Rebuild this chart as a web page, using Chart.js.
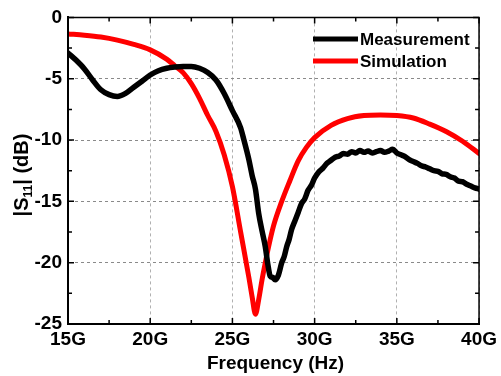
<!DOCTYPE html>
<html>
<head>
<meta charset="utf-8">
<script src="https://cdn.jsdelivr.net/npm/chart.js@4"></script>
<style>
  html, body { margin: 0; padding: 0; background: #fff; }
  #wrap { width: 501px; height: 376px; }
</style>
</head>
<body>
<div id="wrap"><canvas id="s11Chart" width="501" height="376"></canvas></div>
<script>
// measured S11 (GHz, dB)
const measFreq = [15, 15.5, 16, 16.5, 17, 17.5, 18, 18.5, 19, 19.5, 20, 20.5, 21, 21.5, 22, 22.5, 23, 23.5, 24, 24.5,
  25, 25.5, 25.7, 26, 26.2, 26.4, 26.6, 26.8, 27, 27.15, 27.3, 27.45, 27.6, 27.8, 28, 28.15, 28.3, 28.45, 28.6, 28.8,
  29, 29.2, 29.4, 29.6, 29.8, 30, 30.25, 30.5, 30.75, 31, 31.25, 31.5, 31.75, 32, 32.25, 32.5, 32.75, 33, 33.25, 33.5,
  33.75, 34, 34.25, 34.5, 34.75, 35, 35.25, 35.5, 35.75, 36, 36.25, 36.5, 36.75, 37, 37.25, 37.5, 37.75, 38, 38.25,
  38.5, 38.75, 39, 39.25, 39.5, 39.75, 40];
const measS11 = [-2.9, -3.5, -4.2, -5.1, -5.9, -6.3, -6.45, -6.2, -5.7, -5.2, -4.7, -4.35, -4.15, -4.05, -4.0, -4.0, -4.15, -4.5, -5.1, -6.2,
  -7.6, -9.0, -10.0, -11.6, -12.9, -14.0, -16.0, -17.4, -18.7, -20.1, -21.1, -21.2, -21.4, -21.0, -20.0, -19.5, -18.7, -18.1, -17.3, -16.6,
  -15.9, -15.2, -14.8, -14.1, -13.7, -13.1, -12.6, -12.3, -11.9, -11.65, -11.4, -11.3, -11.1, -11.15, -10.95, -11.05, -10.85, -11.0, -10.9, -11.05,
  -10.95, -10.85, -11.0, -10.9, -10.75, -11.05, -11.2, -11.35, -11.6, -11.75, -11.9, -12.1, -12.2, -12.35, -12.5, -12.55, -12.75, -12.8, -13.0,
  -13.1, -13.35, -13.4, -13.6, -13.75, -13.9, -14.0];

// simulated S11 (GHz, dB)
const simFreq = [15, 16, 17, 18, 19, 20, 21, 21.5, 22, 22.5, 23, 23.5, 24, 24.5, 25, 25.5, 26, 26.2, 26.4, 26.6,
  26.8, 27, 27.2, 27.5, 28, 28.5, 29, 29.5, 30, 31, 32, 33, 34, 35, 36, 37, 38, 39, 40];
const simS11 = [-1.35, -1.45, -1.6, -1.85, -2.2, -2.65, -3.4, -3.95, -4.5, -5.4, -6.6, -8.0, -9.3, -11.2, -13.8, -17.5, -21.2, -22.8, -24.2, -23.0,
  -21.4, -20.0, -18.7, -17.0, -15.0, -13.3, -11.7, -10.6, -9.8, -8.8, -8.25, -8.0, -7.95, -8.0, -8.2, -8.7, -9.3, -10.1, -11.1];

const xTicks = [15, 20, 25, 30, 35, 40];
const yTicks = [0, -5, -10, -15, -20, -25];

const FONT = "'Liberation Sans', Arial, sans-serif";

function toPoints(xs, ys) {
  return xs.map((x, i) => ({ x: x, y: ys[i] }));
}

// frame, inward ticks, axis titles and legend
const decorations = {
  id: "decorations",
  afterDraw(chart) {
    const { ctx, chartArea: a, scales } = chart;
    const xs = scales.x, ys = scales.y;
    ctx.save();
    ctx.setLineDash([]);
    ctx.strokeStyle = "#000";
    // top and right edges
    ctx.lineWidth = 1.5;
    ctx.beginPath();
    ctx.moveTo(a.left, a.top);
    ctx.lineTo(a.right, a.top);
    ctx.lineTo(a.right, a.bottom);
    ctx.stroke();
    // left and bottom edges
    ctx.lineWidth = 2;
    ctx.beginPath();
    ctx.moveTo(a.left, a.top);
    ctx.lineTo(a.left, a.bottom);
    ctx.lineTo(a.right, a.bottom);
    ctx.stroke();

    // inward ticks
    ctx.lineWidth = 1.5;
    ctx.beginPath();
    for (let v = 15; v <= 40; v += 2.5) {
      const px = xs.getPixelForValue(v);
      const len = v % 5 === 0 ? 6 : 4;
      ctx.moveTo(px, a.bottom); ctx.lineTo(px, a.bottom - len);
      ctx.moveTo(px, a.top); ctx.lineTo(px, a.top + len);
    }
    for (let v = 0; v >= -25; v -= 2.5) {
      const py = ys.getPixelForValue(v);
      const len = v % 5 === 0 ? 6 : 4;
      ctx.moveTo(a.left, py); ctx.lineTo(a.left + len, py);
      ctx.moveTo(a.right, py); ctx.lineTo(a.right - len, py);
    }
    ctx.stroke();

    // axis titles
    ctx.fillStyle = "#000";
    ctx.font = "bold 19px " + FONT;
    ctx.textAlign = "center";
    ctx.textBaseline = "alphabetic";
    ctx.fillText("Frequency (Hz)", (a.left + a.right) / 2 + 2, 369);

    ctx.save();
    ctx.translate(28, 175);
    ctx.rotate(-Math.PI / 2);
    const p1 = "|S", sub = "11", p2 = "| (dB)";
    ctx.font = "bold 20px " + FONT;
    const w1 = ctx.measureText(p1).width;
    const w3 = ctx.measureText(p2).width;
    ctx.font = "bold 12px " + FONT;
    const w2 = ctx.measureText(sub).width;
    let x0 = -(w1 + w2 + w3) / 2;
    ctx.textAlign = "left";
    ctx.font = "bold 20px " + FONT;
    ctx.fillText(p1, x0, 0);
    ctx.font = "bold 12px " + FONT;
    ctx.fillText(sub, x0 + w1, 4);
    ctx.font = "bold 20px " + FONT;
    ctx.fillText(p2, x0 + w1 + w2, 0);
    ctx.restore();

    // legend
    const rows = [{ y: 39 }, { y: 61 }];
    chart.data.datasets.forEach((ds, i) => {
      const y = rows[i].y;
      ctx.strokeStyle = ds.borderColor;
      ctx.lineWidth = 5;
      ctx.beginPath();
      ctx.moveTo(313, y);
      ctx.lineTo(358, y);
      ctx.stroke();
      ctx.fillStyle = "#000";
      ctx.font = "bold 17px " + FONT;
      ctx.textAlign = "left";
      ctx.textBaseline = "middle";
      ctx.fillText(ds.label, 360, y + 1);
    });
    ctx.restore();
  }
};

const chart = new Chart(document.getElementById("s11Chart"), {
  type: "line",
  data: {
    datasets: [
      {
        label: "Measurement",
        data: toPoints(measFreq, measS11),
        borderColor: "#000000",
        borderWidth: 5.5,
        pointRadius: 0,
        cubicInterpolationMode: "monotone",
        borderCapStyle: "round",
        borderJoinStyle: "round"
      },
      {
        label: "Simulation",
        data: toPoints(simFreq, simS11),
        borderColor: "#ff0000",
        borderWidth: 5,
        pointRadius: 0,
        cubicInterpolationMode: "monotone",
        borderCapStyle: "round"
      }
    ]
  },
  options: {
    responsive: false,
    animation: false,
    events: [],
    layout: { padding: { top: 17, right: 19, left: 0, bottom: 0 } },
    plugins: {
      legend: { display: false },
      tooltip: { enabled: false }
    },
    scales: {
      x: {
        type: "linear",
        min: 15,
        max: 40,
        afterBuildTicks: (s) => { s.ticks = xTicks.map(v => ({ value: v })); },
        afterFit: (s) => { s.height = 52; },
        border: { color: "#000", width: 2, dash: [3, 3] },
        grid: {
          drawTicks: false,
          color: "#b0b0b0",
          lineWidth: 1
        },
        ticks: {
          padding: 4,
          color: "#000",
          maxRotation: 0,
          font: { family: FONT, size: 19, weight: "bold" },
          callback: (v) => v + "G"
        }
      },
      y: {
        type: "linear",
        min: -25,
        max: 0,
        afterBuildTicks: (s) => { s.ticks = yTicks.map(v => ({ value: v })); },
        afterFit: (s) => { s.width = 68; },
        border: { color: "#000", width: 2, dash: [3, 3] },
        grid: {
          drawTicks: false,
          color: "#8a8a8a",
          lineWidth: 1
        },
        ticks: {
          padding: 6,
          color: "#000",
          font: { family: FONT, size: 19, weight: "bold" }
        }
      }
    }
  },
  plugins: [decorations]
});
</script>
</body>
</html>
